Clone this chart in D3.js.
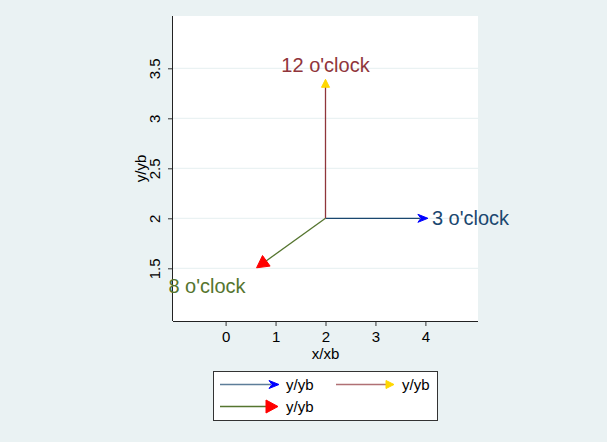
<!DOCTYPE html>
<html><head><meta charset="utf-8">
<script src="https://cdn.jsdelivr.net/npm/d3@7"></script>
<style>body{margin:0;background:#eaf2f3;} svg{display:block;font-family:"Liberation Sans",Arial,sans-serif;}</style>
</head><body>
<script>
// Data
const xTicks = [0, 1, 2, 3, 4];
const yTicks = [1.5, 2, 2.5, 3, 3.5];
const origin = {x: 2, y: 2};
const arrowNames = ["3 o'clock", "12 o'clock", "8 o'clock"];
const arrowXb = [4.05, 2, 0.62];
const arrowYb = [2, 3.39, 1.505];
const lineColors = ["#1a476f", "#90353b", "#55752f"];
const headColors = ["#0000ff", "#ffd700", "#ff0000"];
const legendLabels = ["y/yb", "y/yb", "y/yb"];

const W = 607, H = 442;
const svg = d3.select("body").append("svg").attr("width", W).attr("height", H);
svg.append("rect").attr("width", W).attr("height", H).attr("fill", "#eaf2f3");

const L = 173, R = 478, T = 16, B = 321;
const x = d3.scaleLinear().domain([-1.053, 5.053]).range([L, R]);
const y = d3.scaleLinear().domain([0.973, 4.023]).range([B, T]);

svg.append("rect").attr("x", L).attr("y", T).attr("width", R - L).attr("height", B - T).attr("fill", "#fff");

// gridlines
svg.append("g").selectAll("line").data(yTicks).join("line")
  .attr("x1", L).attr("x2", R).attr("y1", d => y(d)).attr("y2", d => y(d))
  .attr("stroke", "#eaf2f3").attr("stroke-width", 1.2);

// axes
const FS = 15;
const xAxis = svg.append("g").attr("transform", `translate(0,${B})`)
  .call(d3.axisBottom(x).tickValues(xTicks).tickSize(5).tickFormat(d3.format("d")));
const yAxis = svg.append("g").attr("transform", `translate(${L},0)`)
  .call(d3.axisLeft(y).tickValues(yTicks).tickSize(5).tickFormat(d => String(d)));
[xAxis, yAxis].forEach(a => {
  a.select(".domain").remove();
  a.selectAll(".tick line").attr("stroke", "#333");
  a.selectAll("text").attr("font-size", FS).attr("fill", "#000").attr("font-family", "Liberation Sans, Arial, sans-serif");
});
svg.append("line").attr("x1", L).attr("x2", R).attr("y1", B + 0.5).attr("y2", B + 0.5).attr("stroke", "#222");
svg.append("line").attr("x1", L - 0.5).attr("x2", L - 0.5).attr("y1", T).attr("y2", B).attr("stroke", "#222");
xAxis.selectAll("text").attr("dy", "0.71em").attr("y", 10);
yAxis.selectAll(".tick text")
  .attr("x", null).attr("dy", null)
  .attr("text-anchor", "middle")
  .attr("transform", "translate(-18,0) rotate(-90)")
  .attr("y", 0).attr("dy", "0.35em");

// axis titles
svg.append("text").attr("x", (L + R) / 2).attr("y", 359).attr("text-anchor", "middle")
  .attr("font-size", FS).text("x/xb");
svg.append("text").attr("transform", `translate(146,${(T + B) / 2}) rotate(-90)`)
  .attr("text-anchor", "middle").attr("font-size", FS).text("y/yb");

// arrowhead drawing
function head(g, x1, y1, x2, y2, len, wid, color, notch) {
  const a = Math.atan2(y2 - y1, x2 - x1);
  const c = Math.cos(a), s = Math.sin(a);
  const bx = x2 - len * c, by = y2 - len * s;
  const px = -s * wid / 2, py = c * wid / 2;
  const nx = x2 - len * (1 - notch) * c, ny = y2 - len * (1 - notch) * s;
  g.append("path").attr("d", `M${x2},${y2}L${bx + px},${by + py}L${nx},${ny}L${bx - px},${by - py}Z`)
    .attr("fill", color).attr("stroke", color).attr("stroke-width", 1).attr("stroke-linejoin", "miter");
}
const headLen = [10, 8, 12];
const headWid = [8, 8, 13];
const headNotch = [0.3, 0, 0];

const ag = svg.append("g");
arrowXb.forEach((xb, i) => {
  const x1 = x(origin.x), y1 = y(origin.y), x2 = x(xb), y2 = y(arrowYb[i]);
  const a = Math.atan2(y2 - y1, x2 - x1);
  ag.append("line").attr("x1", x1).attr("y1", y1)
    .attr("x2", x2 - (headLen[i] - 2) * Math.cos(a)).attr("y2", y2 - (headLen[i] - 2) * Math.sin(a))
    .attr("stroke", lineColors[i]).attr("stroke-width", 1.3);
  head(ag, x1, y1, x2, y2, headLen[i], headWid[i], headColors[i], headNotch[i]);
});

// labels
const LFS = 20;
svg.append("text").attr("x", x(arrowXb[0]) + 4).attr("y", y(arrowYb[0])).attr("dy", "0.35em")
  .attr("font-size", LFS).attr("fill", lineColors[0]).text(arrowNames[0]);
svg.append("text").attr("x", x(arrowXb[1])).attr("y", y(arrowYb[1]) - 7)
  .attr("text-anchor", "middle").attr("font-size", LFS).attr("fill", lineColors[1]).text(arrowNames[1]);
svg.append("text").attr("x", x(arrowXb[2]) - 11).attr("y", y(arrowYb[2]) + 18).attr("dy", "0.35em")
  .attr("text-anchor", "end").attr("font-size", LFS).attr("fill", lineColors[2]).text(arrowNames[2]);

// legend
const lg = svg.append("g");
lg.append("rect").attr("x", 213.5).attr("y", 371.5).attr("width", 224).attr("height", 49)
  .attr("fill", "#fff").attr("stroke", "#333").attr("stroke-width", 1);
const legPos = [{x: 220, y: 384.5}, {x: 336, y: 384.5}, {x: 220, y: 406.5}];
const legLen = [59, 58, 58];
legPos.forEach((p, i) => {
  const x2 = p.x + legLen[i];
  lg.append("line").attr("x1", p.x).attr("x2", x2 - headLen[i] + 2).attr("y1", p.y).attr("y2", p.y)
    .attr("stroke", lineColors[i]).attr("stroke-width", 1.6).attr("opacity", i === 2 ? 1 : 0.7);
  head(lg, p.x, p.y, x2, p.y, headLen[i], headWid[i], headColors[i], headNotch[i]);
  lg.append("text").attr("x", p.x + 66).attr("y", p.y).attr("dy", "0.35em")
    .attr("font-size", FS).text(legendLabels[i]);
});
</script>
</body></html>
